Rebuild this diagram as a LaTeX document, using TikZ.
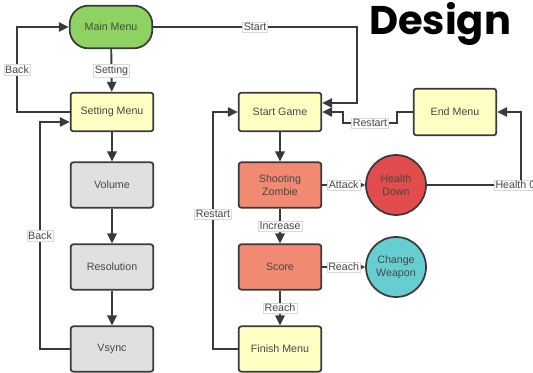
\documentclass[tikz,border=0pt]{standalone}
\usepackage{fontspec}
\setmainfont{Liberation Sans}
\newfontfamily\titlefont{Poppins}
\usetikzlibrary{arrows.meta}

\definecolor{menugreen}{HTML}{8ED362}
\definecolor{menuyellow}{HTML}{FFFFC4}
\definecolor{optgray}{HTML}{E0E0E0}
\definecolor{gamesalmon}{HTML}{F18A70}
\definecolor{hpred}{HTML}{E24C4C}
\definecolor{wpncyan}{HTML}{66CED0}
\definecolor{linegray}{HTML}{3A3A3A}

\begin{document}
\begin{tikzpicture}[
	x=0.75pt, y=-0.75pt,
	every node/.style={font=\fontsize{8}{9.5}\selectfont, text=black!72},
	box/.style={rectangle, draw=linegray, line width=1.3pt, rounded corners=2pt,
		minimum width=62pt, minimum height=34pt, align=center},
	menu/.style={box, fill=menuyellow, minimum height=29pt},
	option/.style={box, fill=optgray},
	play/.style={box, fill=gamesalmon},
	start/.style={box, fill=menugreen, rounded corners=14pt, minimum height=32pt},
	event/.style={circle, draw=linegray, line width=1.3pt, minimum size=45pt,
		inner sep=0pt, align=center},
	link/.style={-{Triangle[length=7.5pt,width=7pt]}, draw=linegray, line width=1.4pt},
	lbl/.style={fill=white, draw=black!15, line width=0.3pt, inner sep=1pt}
	]
	\useasboundingbox (0,0) rectangle (533,373);
	
	% Title
	\node (title) at (440,24) {\titlefont\bfseries\fontsize{30}{32}\selectfont\color{black}Design};
	
	% Menu column
	\node[start] (main) at (111,27) {Main Menu};
	\node[menu] (setting) at (112,112) {Setting Menu};
	\node[option] (volume) at (112,185) {Volume};
	\node[option] (resolution) at (112,267) {Resolution};
	\node[option] (vsync) at (112,349) {Vsync};
	
	% Game column
	\node[menu] (game) at (280,112) {Start Game};
	\node[play] (zombie) at (280,185) {Shooting\\Zombie};
	\node[play] (score) at (280,267) {Score};
	\node[menu, minimum height=34pt] (finish) at (280,349) {Finish Menu};
	\node[event, fill=hpred] (health) at (396,185) {Health\\Down};
	\node[event, fill=wpncyan] (weapon) at (396,267) {Change\\Weapon};
	\node[menu, minimum height=35pt] (endmenu) at (455,112) {End Menu};
	
	% Settings flow
	\draw[link] (main) -- node[lbl]{Setting} (setting);
	\foreach \a/\b in {setting/volume, volume/resolution, resolution/vsync}
		\draw[link] (\a) -- (\b);
	\draw[link] (setting.west) -- (17,112) -- node[lbl]{Back} (17,27) -- (main.west);
	\draw[link] (vsync.west) -- (40,349) -- node[lbl]{Back} (40,122) -- ([yshift=-7.5pt]setting.west);
	
	% Game flow
	\draw[link] (main.east) -- node[lbl]{Start} (357,27) -- (357,103) -- ([yshift=6.75pt]game.east);
	\draw[link] (game) -- (zombie);
	\draw[link] (zombie) -- node[lbl]{Increase} (score);
	\draw[link] (score) -- node[lbl]{Reach} (finish);
	\draw[link] (zombie) -- node[lbl]{Attack} (health);
	\draw[link] (score) -- node[lbl]{Reach} (weapon);
	\draw[link] (finish.west) -- (213,349) -- node[lbl, pos=0.57]{Restart} (213,112) -- (game.west);
	\draw[link] (health.east) -- (494,185) node[lbl, anchor=west]{Health 0} (521,185) -- (521,112) -- (endmenu.east);
	\draw[link] (endmenu.west) -- (397,112) -- (397,123) -- node[lbl]{Restart} (343,123) -- (343,112) -- (game.east);
	
\end{tikzpicture}
\end{document}
